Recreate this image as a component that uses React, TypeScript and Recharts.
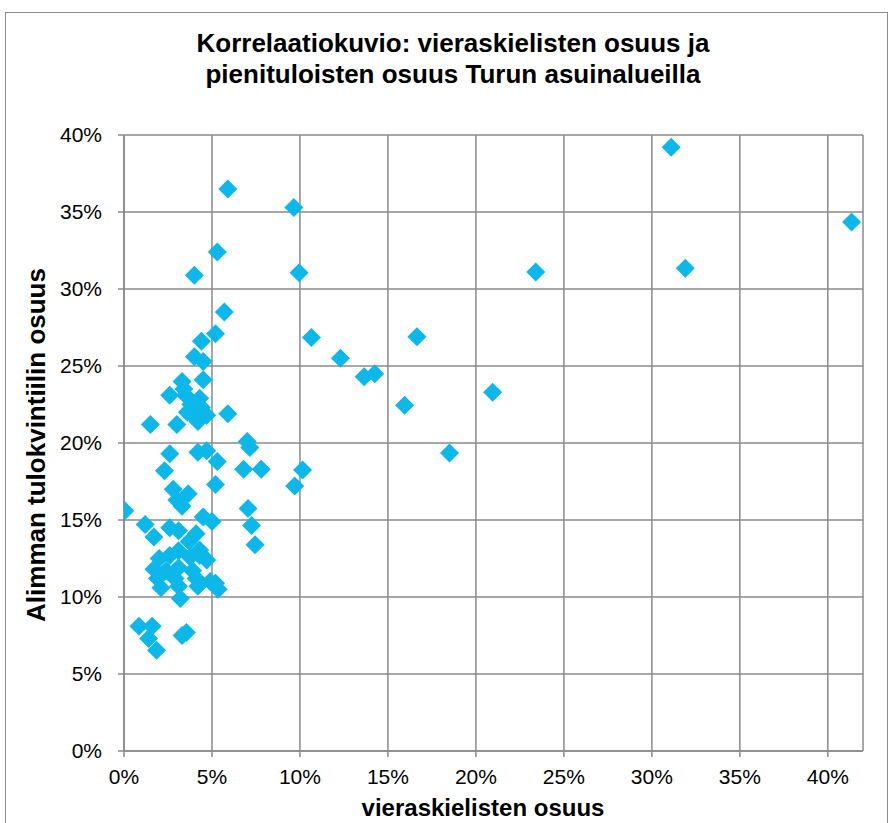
import React from "react";
import { ScatterChart, Scatter, XAxis, YAxis, CartesianGrid } from "recharts";

const title = ["Korrelaatiokuvio: vieraskielisten osuus ja", "pienituloisten osuus Turun asuinalueilla"];
const xTitle = "vieraskielisten osuus";
const yTitle = "Alimman tulokvintiilin osuus";

const xTicks = [0, 5, 10, 15, 20, 25, 30, 35, 40];
const yTicks = [0, 5, 10, 15, 20, 25, 30, 35, 40];

// vieraskielisten osuus (%) per area
const foreignShare = [
  31.1, 41.35, 31.9, 23.4, 9.65, 9.95, 10.65, 16.65, 12.3, 13.65, 14.25, 15.95, 20.95, 18.5, 10.15, 9.7,
  5.9, 5.3, 4.0, 5.7, 5.2, 4.4, 4.0, 4.5, 4.5, 3.3, 3.4, 2.6, 3.5, 4.3, 3.8, 4.4, 3.6, 4.7, 4.1, 5.9, 1.5, 3.0, 4.2,
  7.0, 7.15, 2.6, 4.2, 4.7, 5.3, 6.8, 7.8, 2.3, 2.8, 3.65, 5.2, 3.0, 3.3, 0.05, 7.05, 4.5, 5.0, 1.2, 7.25, 1.7,
  2.6, 3.1, 4.1, 3.7, 7.45, 4.3, 2.6, 2.0, 3.1, 4.3, 4.7, 3.75, 1.7, 2.4, 3.1, 3.9, 1.9, 2.9, 4.1, 4.9,
  2.1, 3.1, 4.2, 5.35, 5.2, 3.2, 0.85, 1.6, 1.4, 1.85, 3.3, 3.55,
];

// alimman tulokvintiilin osuus (%) per area
const lowIncomeShare = [
  39.2, 34.35, 31.35, 31.1, 35.3, 31.05, 26.85, 26.9, 25.5, 24.3, 24.5, 22.45, 23.3, 19.35, 18.25, 17.2,
  36.5, 32.4, 30.9, 28.5, 27.1, 26.6, 25.6, 25.3, 24.1, 24.0, 23.5, 23.1, 23.1, 22.9, 22.5, 22.3, 22.0, 21.8, 21.6, 21.9, 21.2, 21.2, 21.4,
  20.1, 19.7, 19.3, 19.4, 19.5, 18.8, 18.3, 18.3, 18.2, 17.0, 16.7, 17.3, 16.3, 15.9, 15.6, 15.75, 15.2, 14.9, 14.7, 14.65, 13.9,
  14.5, 14.3, 14.1, 13.6, 13.4, 13.05, 12.7, 12.5, 13.0, 12.7, 12.4, 12.6, 11.8, 11.7, 11.9, 11.7, 11.2, 11.2, 11.2, 11.0,
  10.6, 10.7, 10.7, 10.5, 10.9, 9.9, 8.1, 8.1, 7.3, 6.55, 7.5, 7.7,
];

const points = foreignShare.map((x, i) => ({ x, y: lowIncomeShare[i] }));

const FONT = "'Liberation Sans', Arial, sans-serif";
const GRID = "#8a8a8a";
const MARKER = "#0cb8ea";

const Diamond = (props: any) => {
  const { cx, cy } = props;
  const r = 9.5;
  return (
    <polygon
      points={`${cx},${cy - r} ${cx + r},${cy} ${cx},${cy + r} ${cx - r},${cy}`}
      fill={MARKER}
    />
  );
};

const pct = (v: number) => `${v}%`;

export default function App() {
  return (
    <div style={{ position: "fixed", left: 0, top: 0, width: 893, height: 823, background: "#fff", fontFamily: FONT }}>
      <div
        style={{
          position: "absolute",
          left: 5,
          top: 12,
          width: 883,
          height: 830,
          border: "1px solid #8c8c8c",
          boxSizing: "border-box",
        }}
      />
      <div
        style={{
          position: "absolute",
          left: 0,
          top: 28,
          width: 906,
          textAlign: "center",
          fontWeight: "bold",
          fontSize: 26,
          lineHeight: "31px",
          color: "#000",
        }}
      >
        {title.map((t) => (
          <div key={t}>{t}</div>
        ))}
      </div>
      <ScatterChart
        width={893}
        height={823}
        margin={{ top: 135, right: 30, bottom: 32, left: 4 }}
        style={{ position: "absolute", left: 0, top: 0 }}
      >
        <CartesianGrid stroke={GRID} strokeWidth={1.5} />
        <XAxis
          type="number"
          dataKey="x"
          domain={[0, 42]}
          ticks={xTicks}
          tickFormatter={pct}
          height={40}
          stroke={GRID}
          strokeWidth={1.5}
          tickSize={6}
          tickMargin={12}
          tick={{ fill: "#000", fontSize: 21, fontFamily: FONT }}
          allowDataOverflow
        />
        <YAxis
          type="number"
          dataKey="y"
          domain={[0, 40]}
          ticks={yTicks}
          tickFormatter={pct}
          width={120}
          stroke={GRID}
          strokeWidth={1.5}
          tickSize={6}
          tickMargin={16}
          tick={{ fill: "#000", fontSize: 21, fontFamily: FONT }}
          allowDataOverflow
        />
        <Scatter data={points} shape={Diamond} isAnimationActive={false} />
      </ScatterChart>
      <div
        style={{
          position: "absolute",
          left: 483,
          top: 808,
          transform: "translate(-50%, -50%)",
          fontWeight: "bold",
          fontSize: 24,
          whiteSpace: "nowrap",
          lineHeight: "30px",
          color: "#000",
        }}
      >
        {xTitle}
      </div>
      <div
        style={{
          position: "absolute",
          left: 36,
          top: 445,
          transform: "translate(-50%, -50%) rotate(-90deg)",
          fontWeight: "bold",
          fontSize: 26,
          whiteSpace: "nowrap",
          lineHeight: "30px",
          color: "#000",
        }}
      >
        {yTitle}
      </div>
    </div>
  );
}
